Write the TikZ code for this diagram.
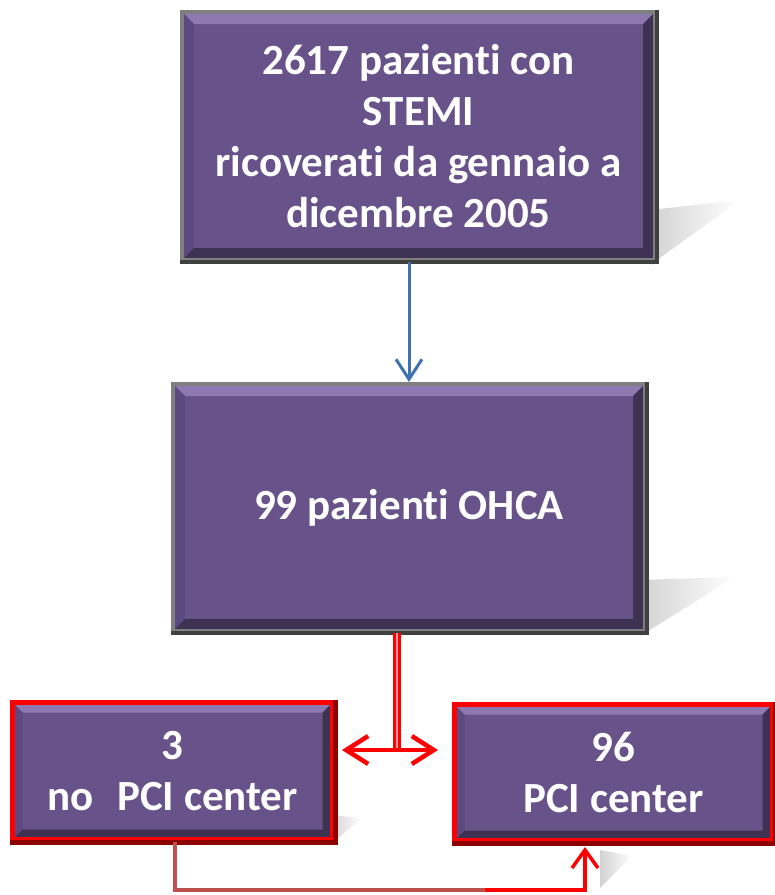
\documentclass[tikz,border=0pt]{standalone}
\usepackage{fontspec}
\setmainfont{Carlito}[Ligatures=NoCommon]
\usetikzlibrary{arrows.meta}

\definecolor{viola}{HTML}{675289}
\definecolor{violachiaro}{HTML}{8E78B0}
\definecolor{violamedio}{HTML}{5C4980}
\definecolor{violascuro}{HTML}{3E3152}
\definecolor{grigiobordo}{HTML}{7F7F7F}
\definecolor{grigioscuro}{HTML}{404040}
\definecolor{rossobordo}{HTML}{FF0000}
\definecolor{rossoscuro}{HTML}{8C0000}
\definecolor{rossotenue}{HTML}{C0504D}
\definecolor{blu}{HTML}{3F72AF}

\tikzset{
  smusso/.style={path picture={
      \path (path picture bounding box.north west) coordinate (nw)
            (path picture bounding box.north east) coordinate (ne)
            (path picture bounding box.south east) coordinate (se)
            (path picture bounding box.south west) coordinate (sw);
      \fill[violachiaro] (nw) -- (ne) -- ([shift={(-#1,#1)}]ne) -- ([shift={(#1,#1)}]nw) -- cycle;
      \fill[violamedio] (nw) -- ([shift={(#1,#1)}]nw) -- ([shift={(#1,-#1)}]sw) -- (sw) -- cycle;
      \fill[violascuro] (sw) -- (se) -- ([shift={(-#1,-#1)}]se) -- ([shift={(#1,-#1)}]sw) -- cycle;
      \fill[violascuro] (ne) -- (se) -- ([shift={(-#1,-#1)}]se) -- ([shift={(-#1,#1)}]ne) -- cycle;
  }},
  scatola/.style={rectangle, fill=viola, text=white, align=center, inner sep=0pt,
    font=\fontsize{43}{51}\selectfont\bfseries},
  grigia/.style={scatola, draw=grigiobordo, line width=4pt, smusso=12},
  rossa/.style={scatola, draw=rossobordo, line width=5pt, smusso=10},
  ombra/.style={left color=gray!35, right color=white, draw=none},
  freccia blu/.style={draw=blu, line width=3pt, -{Straight Barb[length=20pt,width=26pt,line width=3pt]}},
  freccia rossa/.style={draw=rossobordo, line width=4.5pt, -{Straight Barb[length=22pt,width=28pt,line width=4.5pt]}}
}

\begin{document}
\begin{tikzpicture}[x=1pt, y=-1pt]
        \useasboundingbox (0,0) rectangle (775,895);

        % ombre
        \shade[ombra] (650,210) -- (740,200) -- (650,265) -- cycle;
        \shade[ombra] (640,580) -- (735,577) -- (640,636) -- cycle;
        \shade[ombra] (330,815) -- (362,818) -- (330,845) -- cycle;
        \shade[ombra] (600,850) -- (632,856) -- (600,888) -- cycle;

        % scatole
        \node[grigia, minimum width=473, minimum height=248] (ricoverati) at (418.5,136)
          {2617 pazienti con\\STEMI\\ricoverati da gennaio a\\dicembre 2005};
        \node[grigia, minimum width=472, minimum height=247] (ohca) at (409,507.5)
          {99 pazienti OHCA};
        \node[rossa, minimum width=320, minimum height=137] (nopci) at (172.5,771)
          {3\\no\hspace{0.55em}PCI center};
        \node[rossa, minimum width=318, minimum height=136] (pci) at (613.5,772.5)
          {96\\PCI center};

        % bordi scuri
        \foreach \n in {ricoverati, ohca}
          \draw[grigioscuro, line width=4pt] (\n.south west) -- (\n.south east) -- (\n.north east);
        \foreach \n in {nopci, pci}
          \draw[rossoscuro, line width=5pt] (\n.south west) -- (\n.south east) -- (\n.north east);

        % frecce
        \draw[freccia blu] (ricoverati.south -| ohca.north) -- (ohca.north);

        \coordinate (bivio) at (397,750);
        \draw[rossobordo, line width=3pt, double=red!40!white, double distance=2pt]
          (ohca.south -| bivio) -- (bivio);
        \draw[freccia rossa] (bivio) -- ([xshift=7pt]nopci.east |- bivio);
        \draw[freccia rossa] (bivio) -- ([xshift=-14pt]pci.west |- bivio);

        \coordinate (giu) at (175,890);
        \coordinate (angolo) at (585,890);
        \draw[rossotenue, line width=3.5pt] (nopci.south -| giu) -- (giu) -- (485,890);
        \draw[rossobordo, line width=3.5pt, -{Straight Barb[length=18pt,width=26pt,line width=3.5pt]}]
          (485,890) -- (angolo) -- ([yshift=-4pt]pci.south -| angolo);

    \end{tikzpicture}
\end{document}
